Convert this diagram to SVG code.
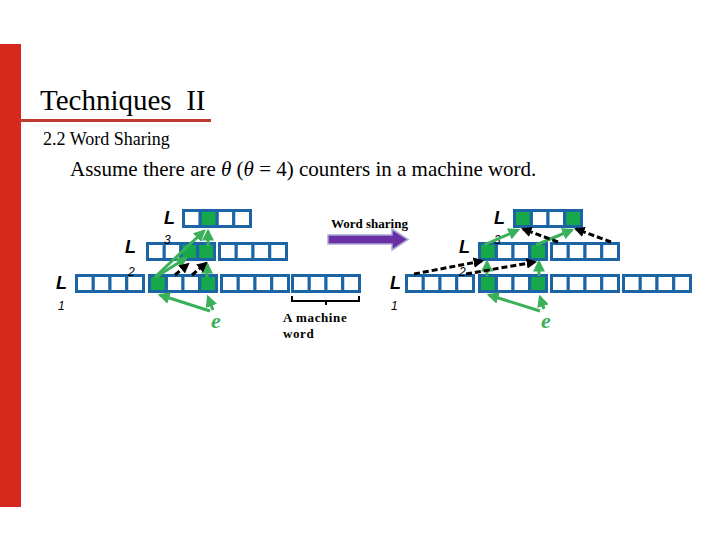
<svg xmlns="http://www.w3.org/2000/svg" xmlns:xlink="http://www.w3.org/1999/xlink" width="720" height="540" viewBox="0 0 720 540">
<style>
.cell{fill:#fff;stroke:#1b64a5;stroke-width:3}
.gc{fill:#16a84a;stroke:#1b64a5;stroke-width:3}
.lab{font-family:"Liberation Sans",Arial,sans-serif;font-weight:bold;font-style:italic;font-size:18px;fill:#000}
.sub{font-family:"Liberation Sans",Arial,sans-serif;font-style:italic;font-size:12px;fill:#000}
.ser{font-family:"Liberation Serif","Times New Roman",serif;fill:#000}
.ga{stroke:#3bb05a;stroke-width:3;fill:none;marker-end:url(#mg)}
.ba{stroke:#000;stroke-width:3;fill:none;stroke-dasharray:6 3;marker-end:url(#mb)}
.e{font-family:"Liberation Serif","Times New Roman",serif;font-style:italic;font-weight:bold;font-size:22px;fill:#3bb05a}
</style>
<defs>
<g id="w">
<rect class="cell" x="1.5" y="1.5" width="16.75" height="16"/>
<rect class="cell" x="18.25" y="1.5" width="16.75" height="16"/>
<rect class="cell" x="35" y="1.5" width="16.75" height="16"/>
<rect class="cell" x="51.75" y="1.5" width="16.75" height="16"/>
</g>
<rect id="g" class="gc" x="0" y="1.5" width="16.75" height="16"/>
<marker id="mg" viewBox="0 0 10 10" refX="8" refY="5" markerWidth="4" markerHeight="4" orient="auto"><path d="M0,0 L10,5 L0,10 z" fill="#3bb05a"/></marker>
<marker id="mb" viewBox="0 0 10 10" refX="8" refY="5" markerWidth="3.5" markerHeight="3.5" orient="auto"><path d="M0,0 L10,5 L0,10 z" fill="#000"/></marker>
</defs>
<rect x="0" y="44" width="21" height="463" fill="#d6281c"/>
<line x1="20" y1="120.5" x2="211" y2="120.5" stroke="#c0392f" stroke-width="3"/>
<text class="ser" x="40" y="110" font-size="29" xml:space="preserve">Techniques  II</text>
<text class="ser" x="43" y="145" font-size="18">2.2 Word Sharing</text>
<text class="ser" x="70" y="176" font-size="21" fill="#333">Assume there are <tspan font-style="italic">θ</tspan> (<tspan font-style="italic">θ</tspan> = 4) counters in a machine word.</text>

<g id="left-tree">
<use href="#w" x="182" y="209"/>
<use href="#g" x="200.25" y="209"/>
<use href="#w" x="146" y="242"/>
<use href="#w" x="218" y="242"/>
<use href="#g" x="181" y="242"/>
<use href="#g" x="197.75" y="242"/>
<use href="#w" x="75" y="274"/>
<use href="#w" x="148" y="274"/>
<use href="#w" x="220" y="274"/>
<use href="#w" x="291" y="274"/>
<use href="#g" x="149.5" y="274"/>
<use href="#g" x="199.75" y="274"/>
<text class="lab" x="164" y="224">L</text>
<text class="lab" x="125" y="253">L</text>
<text class="sub" x="164" y="244">3</text>
<text class="lab" x="56" y="289">L</text>
<text class="sub" x="128" y="276">2</text>
<text class="sub" x="58" y="310">1</text>
<text class="e" x="211" y="328">e</text>
</g>

<g id="right-tree">
<use href="#w" x="513" y="209"/>
<use href="#g" x="514.5" y="209"/>
<use href="#g" x="564.75" y="209"/>
<use href="#w" x="478" y="242"/>
<use href="#w" x="550" y="242"/>
<use href="#g" x="479.5" y="242"/>
<use href="#g" x="529.75" y="242"/>
<use href="#w" x="405" y="274"/>
<use href="#w" x="478" y="274"/>
<use href="#w" x="550" y="274"/>
<use href="#w" x="622" y="274"/>
<use href="#g" x="479.5" y="274"/>
<use href="#g" x="529.75" y="274"/>
<text class="lab" x="494" y="224">L</text>
<text class="lab" x="459" y="253">L</text>
<text class="sub" x="494" y="244">3</text>
<text class="lab" x="390" y="289">L</text>
<text class="sub" x="459" y="276">2</text>
<text class="sub" x="391" y="310">1</text>
<text class="e" x="541" y="328">e</text>
</g>

<g id="shift">
<text class="ser" x="331" y="228" font-size="13" font-weight="bold">Word sharing</text>
<path d="M328,235 L392,235 L392,229 L408,239.5 L392,250 L392,244 L328,244 z" fill="#6a2fa3" stroke="#a9a9d6" stroke-width="1.5"/>
</g>

<g id="bracket">
<path d="M292,296 L292,301 L359,301 L359,296 M326,301 L326,305" stroke="#000" stroke-width="2" fill="none"/>
<text class="ser" x="283" y="322" font-size="13" font-weight="bold" letter-spacing="0.6">A machine</text>
<text class="ser" x="283" y="338" font-size="13" font-weight="bold" letter-spacing="0.6">word</text>
</g>

<g id="connectors">
<line class="ga" x1="156" y1="277" x2="186" y2="258"/>
<line class="ga" x1="155" y1="277" x2="204" y2="231"/>
<line class="ga" x1="207" y1="277" x2="207" y2="264"/>
<line class="ga" x1="208" y1="246" x2="208" y2="231"/>
<line class="ga" x1="210" y1="311" x2="160" y2="295"/>
<line class="ga" x1="213" y1="310" x2="208" y2="297"/>
<line class="ba" x1="175" y1="275" x2="188" y2="264"/>
<line class="ba" x1="192" y1="275" x2="206" y2="263"/>
<line class="ga" x1="487" y1="276" x2="487" y2="262"/>
<line class="ga" x1="539" y1="276" x2="539" y2="262"/>
<line class="ga" x1="484" y1="245" x2="518" y2="230"/>
<line class="ga" x1="536" y1="245" x2="572" y2="230"/>
<line class="ga" x1="540" y1="311" x2="489" y2="295"/>
<line class="ga" x1="544" y1="309" x2="540" y2="297"/>
<line class="ba" x1="414" y1="274" x2="482" y2="261"/>
<line class="ba" x1="466" y1="274" x2="535" y2="262"/>
<line class="ba" x1="558" y1="242" x2="523" y2="229"/>
<line class="ba" x1="611" y1="242" x2="576" y2="229"/>
</g>
</svg>
